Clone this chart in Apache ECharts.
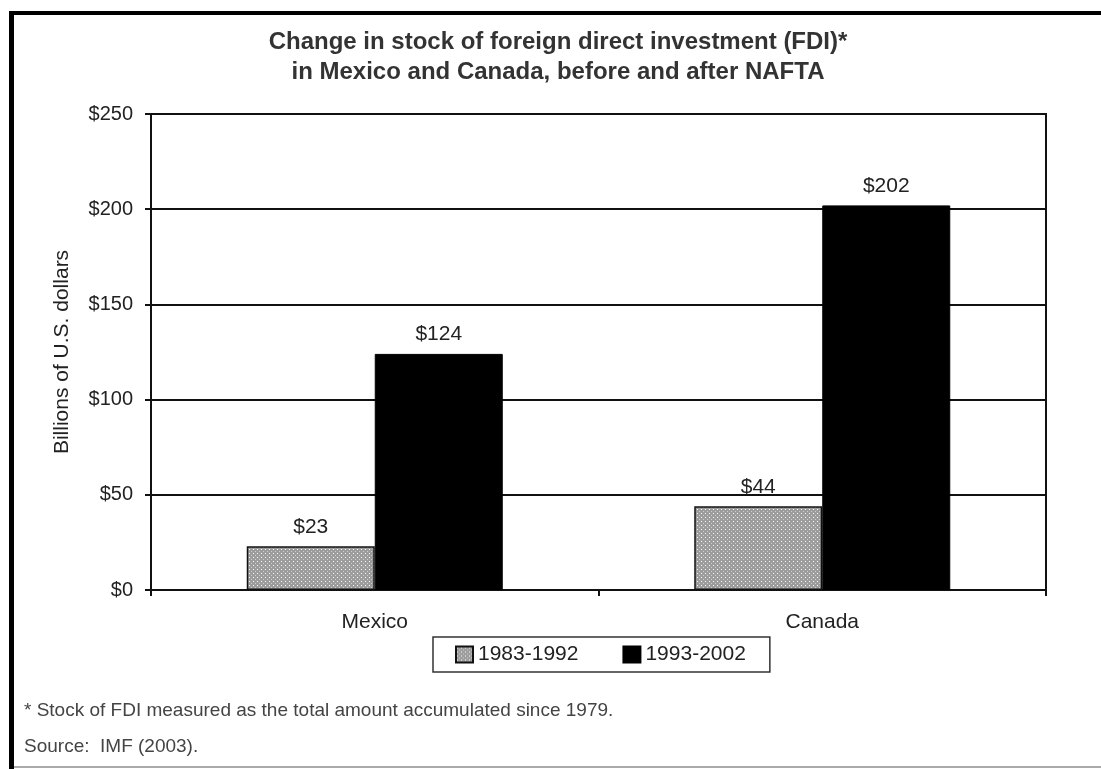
<!DOCTYPE html>
<html>
<head>
<meta charset="utf-8">
<script src="https://cdn.jsdelivr.net/npm/echarts@6/dist/echarts.min.js"></script>
<style>
html,body{margin:0;padding:0;background:#fff;}
#chart{width:1101px;height:769px;}
</style>
</head>
<body>
<div id="chart"></div>
<script>
const categories = ['Mexico', 'Canada'];
const seriesNames = ['1983-1992', '1993-2002'];
const values1983 = [23, 44];
const values1993 = [124, 202];
const yTicks = [0, 50, 100, 150, 200, 250];

function makePattern() {
  const c = document.createElement('canvas');
  c.width = 4; c.height = 4;
  const ctx = c.getContext('2d');
  ctx.fillStyle = '#9c9c9c';
  ctx.fillRect(0, 0, 4, 4);
  ctx.fillStyle = '#ffffff';
  ctx.fillRect(1, 1, 1, 1);
  ctx.fillStyle = '#cfcfcf';
  ctx.fillRect(3, 3, 1, 1);
  return c;
}
const pattern = { image: makePattern(), repeat: 'repeat' };

const chart = echarts.init(document.getElementById('chart'), null, { renderer: 'canvas' });
const FONT = 'Liberation Sans, Arial, sans-serif';

chart.setOption({
  animation: false,
  backgroundColor: '#ffffff',
  textStyle: { fontFamily: FONT },
  title: {
    text: 'Change in stock of foreign direct investment (FDI)*\nin Mexico and Canada, before and after NAFTA',
    left: 553, top: 22, textAlign: 'center',
    textStyle: { fontFamily: FONT, fontSize: 24, fontWeight: 'bold', color: '#333', lineHeight: 30 }
  },
  legend: {
    data: seriesNames,
    icon: 'rect',
    left: 433, top: 637,
    padding: [7, 24, 7, 22],
    itemGap: 44,
    itemWidth: 17, itemHeight: 16,
    borderColor: '#333', borderWidth: 1.5,
    textStyle: { fontFamily: FONT, fontSize: 21, color: '#222' }
  },
  grid: {
    left: 151, right: 55, top: 114, bottom: 179,
    show: true, borderColor: '#111', borderWidth: 2
  },
  xAxis: {
    type: 'category',
    data: categories,
    axisLine: { lineStyle: { color: '#111', width: 2 } },
    axisTick: { show: true, length: 6, lineStyle: { color: '#111', width: 2 } },
    axisLabel: { fontFamily: FONT, fontSize: 21, color: '#222', margin: 22 }
  },
  yAxis: {
    type: 'value',
    min: 0, max: 250, interval: 50,
    name: 'Billions of U.S. dollars',
    nameLocation: 'middle',
    nameGap: 78,
    nameTextStyle: { fontFamily: FONT, fontSize: 21, color: '#222' },
    axisLine: { show: true, lineStyle: { color: '#111', width: 2 } },
    axisTick: { show: true, length: 6, lineStyle: { color: '#111', width: 2 } },
    axisLabel: {
      fontFamily: FONT, fontSize: 20, color: '#222', margin: 18,
      formatter: function (v) { return yTicks.indexOf(v) >= 0 ? '$' + v : ''; }
    },
    splitLine: { show: true, lineStyle: { color: '#111', width: 2 } }
  },
  series: [
    {
      name: seriesNames[0], type: 'bar', data: values1983,
      barWidth: 128, barGap: '0%',
      itemStyle: { color: pattern, borderColor: '#111', borderWidth: 1.5 },
      label: { show: true, position: 'top', distance: 9, formatter: function (p) { return '$' + p.value; },
        fontFamily: FONT, fontSize: 21, color: '#222' }
    },
    {
      name: seriesNames[1], type: 'bar', data: values1993,
      barWidth: 128, barGap: '0%',
      itemStyle: { color: '#000000', borderColor: '#000', borderWidth: 1 },
      label: { show: true, position: 'top', distance: 9, formatter: function (p) { return '$' + p.value; },
        fontFamily: FONT, fontSize: 21, color: '#222' }
    }
  ],
  graphic: [
    { type: 'rect', shape: { x: 9, y: 11, width: 1092, height: 4 }, style: { fill: '#000' }, silent: true },
    { type: 'rect', shape: { x: 9, y: 11, width: 5, height: 758 }, style: { fill: '#000' }, silent: true },
    { type: 'rect', shape: { x: 14, y: 766, width: 1087, height: 2 }, style: { fill: '#aaa' }, silent: true },
    { type: 'text', left: 24, top: 701, style: { text: '* Stock of FDI measured as the total amount accumulated since 1979.', font: '19px Liberation Sans, Arial, sans-serif', fill: '#444' } },
    { type: 'text', left: 24, top: 737, style: { text: 'Source:  IMF (2003).', font: '19px Liberation Sans, Arial, sans-serif', fill: '#444' } }
  ]
});
</script>
</body>
</html>
